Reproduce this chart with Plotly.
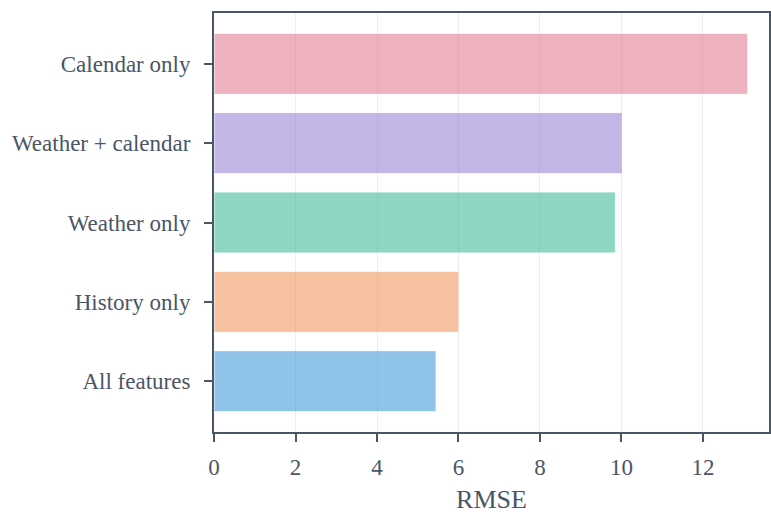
import plotly.graph_objects as go

categories = ["All features", "History only", "Weather only", "Weather + calendar", "Calendar only"]
rmse = [5.45, 6.01, 9.85, 10.02, 13.1]
colors = ["#3f9ad8", "#f0955a", "#3cb996", "#9a80d6", "#e37c90"]
x_ticks = [0, 2, 4, 6, 8, 10, 12]

AX = "#4a5568"
FONT = "Liberation Serif"

fig = go.Figure(go.Bar(
    x=rmse, y=categories, orientation="h",
    marker=dict(color=colors, opacity=0.58, line=dict(color="white", width=1)),
    hoverinfo="x+y",
))

fig.update_layout(
    width=771, height=514,
    margin=dict(l=214, r=0, t=13, b=82),
    paper_bgcolor="white", plot_bgcolor="white",
    font=dict(family=FONT, color=AX, size=23),
    bargap=0.23,
    showlegend=False,
)
fig.update_xaxes(
    range=[0, 13.62], tickvals=x_ticks, ticks="outside", ticklen=8, tickwidth=2, tickcolor=AX,
    showline=True, linecolor=AX, linewidth=2, mirror=True,
    showgrid=True, gridcolor="#e9edf0", gridwidth=1, zeroline=False,
    title=dict(text="RMSE", font=dict(size=26, color=AX), standoff=15),
    tickfont=dict(size=23, color=AX), ticklabelstandoff=5,
)
fig.update_yaxes(
    range=[-0.64, 4.64], ticks="outside", ticklen=8, tickwidth=2, tickcolor=AX,
    showline=True, linecolor=AX, linewidth=2, mirror=True,
    showgrid=False, zeroline=False,
    tickfont=dict(size=23, color=AX), ticklabelstandoff=9,
)

# remove the default 8px page margin so the 771x514 figure fills the window exactly
fig.write_html(
    "out.html",
    config={"displayModeBar": False},
    post_script="document.body.style.margin='0';document.body.style.overflow='hidden';",
)
